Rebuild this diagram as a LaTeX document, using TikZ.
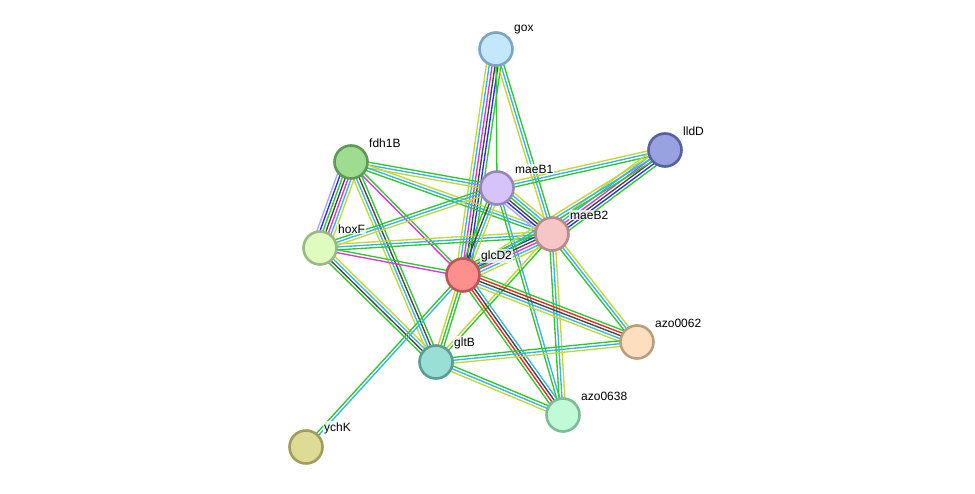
\documentclass[tikz,border=0pt]{standalone}
\usepackage{fontspec}
\setmainfont{Liberation Sans}
\usetikzlibrary{calc,backgrounds}
\definecolor{cgr}{HTML}{2FC82F}
\definecolor{ccy}{HTML}{35B6E6}
\definecolor{cyg}{HTML}{C2D834}
\definecolor{cmg}{HTML}{DD35DD}
\definecolor{cbk}{HTML}{444444}
\definecolor{cbl}{HTML}{2A2AF0}
\definecolor{crd}{HTML}{EE2424}
\definecolor{clv}{HTML}{A8A8F8}
\tikzset{
  prot/.style={circle, minimum size=33pt, inner sep=0pt, line width=2.6pt},
  lbl/.style={anchor=west, font=\fontsize{12}{14}\selectfont, inner sep=1pt, fill=white, fill opacity=0.75, text opacity=1},
  edge/.style={line width=1.35pt}
}
\newcommand{\bundle}[3]{%
  \xdef\bn{0}%
  \foreach \c in {#3}{\xdef\bn{\the\numexpr\bn+1\relax}}%
  \foreach \c [count=\i] in {#3}{%
    \pgfmathsetmacro\off{(\i-(\bn+1)/2)*2.9}%
    \draw[edge,\c] ($(#1.center)!\off pt!90:(#2.center)$) -- ($(#2.center)!\off pt!-90:(#1.center)$);
  }%
}
\begin{document}
\begin{tikzpicture}[x=1pt,y=-1pt]
\useasboundingbox (0,0) rectangle (975,493);
\node[prot, fill={rgb,255:red,195;green,232;blue,251}, draw={rgb,255:red,123;green,165;blue,196}] (gox) at (496,49) {};
\node[prot, fill={rgb,255:red,152;green,162;blue,224}, draw={rgb,255:red,87;green,96;blue,160}] (lldD) at (665,150) {};
\node[prot, fill={rgb,255:red,158;green,220;blue,143}, draw={rgb,255:red,94;green,154;blue,85}] (fdh1B) at (351,162) {};
\node[prot, fill={rgb,255:red,213;green,195;blue,250}, draw={rgb,255:red,151;green,133;blue,190}] (maeB1) at (497,188) {};
\node[prot, fill={rgb,255:red,246;green,197;blue,197}, draw={rgb,255:red,180;green,138;blue,138}] (maeB2) at (552,234) {};
\node[prot, fill={rgb,255:red,224;green,251;blue,190}, draw={rgb,255:red,154;green,185;blue,132}] (hoxF) at (320,248) {};
\node[prot, fill={rgb,255:red,253;green,143;blue,143}, draw={rgb,255:red,187;green,86;blue,86}] (glcD2) at (463,275) {};
\node[prot, fill={rgb,255:red,253;green,223;blue,192}, draw={rgb,255:red,186;green,159;blue,126}] (azo0062) at (637,342) {};
\node[prot, fill={rgb,255:red,154;green,223;blue,214}, draw={rgb,255:red,90;green,157;blue,148}] (gltB) at (436,362) {};
\node[prot, fill={rgb,255:red,192;green,250;blue,215}, draw={rgb,255:red,125;green,188;blue,150}] (azo0638) at (563,415) {};
\node[prot, fill={rgb,255:red,222;green,219;blue,150}, draw={rgb,255:red,161;green,158;blue,91}] (ychK) at (306,447) {};
\begin{pgfonlayer}{background}
\fill[white] (0,0) rectangle (975,493);
\bundle{gox}{glcD2}{cyg,ccy,cmg,cbk,cbl,cgr}
\bundle{gox}{maeB1}{cgr}
\bundle{gox}{maeB2}{cyg,ccy,cgr}
\bundle{fdh1B}{hoxF}{clv,cbl,cgr,cbk,cmg,ccy,cyg}
\bundle{fdh1B}{maeB1}{cyg,ccy,cgr}
\bundle{fdh1B}{maeB2}{cgr,ccy,cyg}
\bundle{fdh1B}{glcD2}{cmg,cgr}
\bundle{fdh1B}{gltB}{cyg,ccy,cbk,cgr}
\bundle{hoxF}{maeB1}{cyg,ccy,cgr}
\bundle{hoxF}{maeB2}{cgr,ccy,cyg}
\bundle{hoxF}{glcD2}{cmg,cgr}
\bundle{hoxF}{gltB}{cgr,cbk,ccy,cyg}
\bundle{maeB1}{maeB2}{clv,cbl,cbk,cgr,ccy,cyg}
\bundle{maeB1}{glcD2}{cgr,cbk,ccy,cyg}
\bundle{maeB1}{lldD}{cgr,ccy,cyg}
\bundle{maeB1}{azo0638}{cgr,ccy}
\bundle{maeB2}{lldD}{cgr,cbl,cbk,cmg,ccy,cyg}
\bundle{maeB2}{glcD2}{cgr,cbl,cbk,cmg,ccy,cyg}
\bundle{maeB2}{azo0062}{cgr,ccy,cyg}
\bundle{maeB2}{azo0638}{cgr,ccy,cyg}
\bundle{maeB2}{gltB}{cyg,cgr}
\bundle{glcD2}{lldD}{cgr,ccy,cyg}
\bundle{glcD2}{azo0062}{cyg,ccy,cbk,crd,cgr}
\bundle{glcD2}{azo0638}{cgr,crd,cbk,ccy}
\bundle{glcD2}{gltB}{cyg,cgr,cgr}
\bundle{glcD2}{ychK}{cgr,ccy}
\bundle{gltB}{azo0062}{cyg,ccy,cgr}
\bundle{gltB}{azo0638}{cyg,ccy,cgr}
\end{pgfonlayer}
\node[lbl] (gox-l) at ($(gox)+(17,-19)$) {gox};
\node[lbl] (lldD-l) at ($(lldD)+(17,-19)$) {lldD};
\node[lbl] (fdh1B-l) at ($(fdh1B)+(17,-19)$) {fdh1B};
\node[lbl] (maeB1-l) at ($(maeB1)+(17,-19)$) {maeB1};
\node[lbl] (maeB2-l) at ($(maeB2)+(17,-19)$) {maeB2};
\node[lbl] (hoxF-l) at ($(hoxF)+(17,-19)$) {hoxF};
\node[lbl] (glcD2-l) at ($(glcD2)+(17,-19)$) {glcD2};
\node[lbl] (azo0062-l) at ($(azo0062)+(17,-19)$) {azo0062};
\node[lbl] (gltB-l) at ($(gltB)+(17,-19)$) {gltB};
\node[lbl] (azo0638-l) at ($(azo0638)+(17,-19)$) {azo0638};
\node[lbl] (ychK-l) at ($(ychK)+(17,-19)$) {ychK};
\end{tikzpicture}
\end{document}
